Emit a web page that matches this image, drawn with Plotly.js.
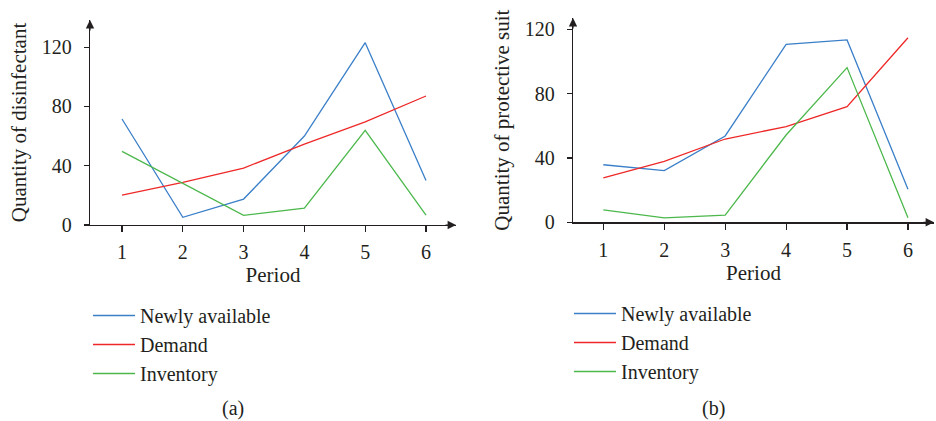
<!DOCTYPE html>
<html><head><meta charset="utf-8">
<script src="https://cdn.plot.ly/plotly-3.0.1.min.js"></script>
<style>html,body{margin:0;padding:0;background:#fff;}#chart{width:936px;height:421px;}</style>
</head><body><div id="chart"></div>
<script>
// ---- data ----
const periods = [1, 2, 3, 4, 5, 6];
const seriesNames = ["Newly available", "Demand", "Inventory"];
// (a) disinfectant
const disNewly = [71.5, 5.2, 17.5, 60, 123, 30];
const disDemand = [20.2, 28.8, 38.4, 54.6, 69.5, 87];
const disInventory = [49.7, 28.1, 6.5, 11.3, 63.9, 6.7];
// (b) protective suit
const suitNewly = [35.8, 32.1, 53.7, 110.7, 113.4, 20.5];
const suitDemand = [27.6, 37.9, 51.8, 59.5, 71.9, 114.8];
const suitInventory = [7.7, 2.7, 4.5, 54.3, 96.2, 2.9];
const yTicks = [0, 40, 80, 120];
const yTitleA = "Quantity of disinfectant";
const yTitleB = "Quantity of protective suit";
const xTitle = "Period";
const captions = ["(a)", "(b)"];

const colors = ["#3a7fc8", "#ee2828", "#4cb84c"];
const FONT = "Liberation Serif, Times New Roman, serif";
const AX = "#231f20";

function mk(x, y, i, xa, ya, leg) {
  return {x: x, y: y, type: "scatter", mode: "lines", name: seriesNames[i],
    xaxis: xa, yaxis: ya, legend: leg,
    line: {color: colors[i], width: 1.3}, hoverinfo: "skip"};
}
const data = [
  mk(periods, disNewly, 0, "x", "y", "legend"),
  mk(periods, disDemand, 1, "x", "y", "legend"),
  mk(periods, disInventory, 2, "x", "y", "legend"),
  mk(periods, suitNewly, 0, "x2", "y2", "legend2"),
  mk(periods, suitDemand, 1, "x2", "y2", "legend2"),
  mk(periods, suitInventory, 2, "x2", "y2", "legend2")
];

const W = 936, H = 421;
const px = v => v / W, py = v => (H - v) / H;

function xax(d0, d1, r, anchor) {
  return {domain: [px(d0), px(d1)], range: r, anchor: anchor,
    tickvals: periods, ticktext: periods.map(String),
    showline: true, linecolor: AX, linewidth: 1.2, ticks: "outside", ticklen: 6,
    tickcolor: AX, tickwidth: 1.2, showgrid: false, zeroline: false,
    tickfont: {family: FONT, size: 20, color: AX}, ticklabelstandoff: 3,
    title: {text: xTitle, font: {family: FONT, size: 21, color: AX}, standoff: 5}};
}
function yax(d0, d1, r, anchor, title, so) {
  return {domain: [py(d0), py(d1)], range: r, anchor: anchor,
    tickvals: yTicks, showline: true, linecolor: AX, linewidth: 1.2,
    ticks: "outside", ticklen: 5, tickcolor: AX, tickwidth: 1.2,
    showgrid: false, zeroline: false,
    tickfont: {family: FONT, size: 20, color: AX}, ticklabelstandoff: 8,
    title: {text: title, font: {family: FONT, size: 21, color: AX}, standoff: so}};
}

function arrow(xr, yr, x, y, ax, ay) {
  return {xref: xr, yref: yr, x: x, y: y, ax: ax, ay: ay, text: "",
    showarrow: true, arrowhead: 2, arrowsize: 1.4, arrowwidth: 1.2, arrowcolor: AX, standoff: 0};
}

const layout = {
  width: W, height: H, margin: {l: 0, r: 0, t: 0, b: 0},
  paper_bgcolor: "#fff", plot_bgcolor: "#fff", showlegend: true,
  font: {family: FONT, color: AX},
  xaxis: xax(90, 456, [1 - 32 / 60.8, 6 + 30 / 60.8], "y"),
  yaxis: yax(225, 20, [0, (225 - 20) / 1.4825], "x", yTitleA, 9),
  xaxis2: xax(573, 934, [1 - 30.3 / 60.88, 6 + 26 / 60.88], "y2"),
  yaxis2: yax(222.3, 18, [0, (222.3 - 18) / 1.608], "x2", yTitleB, 9),
  legend: {x: px(88), y: py(296), xanchor: "left", yanchor: "top",
    font: {family: FONT, size: 20, color: AX}, tracegroupgap: 0, itemwidth: 42,
    bgcolor: "rgba(0,0,0,0)"},
  legend2: {x: px(569), y: py(294), xanchor: "left", yanchor: "top",
    font: {family: FONT, size: 20, color: AX}, tracegroupgap: 0, itemwidth: 42,
    bgcolor: "rgba(0,0,0,0)"},
  annotations: [
    arrow("x domain", "y domain", 1, 0, -12, 0),
    arrow("x domain", "y domain", 0, 1, 0, 12),
    arrow("x2 domain", "y2 domain", 1, 0, -12, 0),
    arrow("x2 domain", "y2 domain", 0, 1, 0, 12),
    {xref: "paper", yref: "paper", x: px(233), y: py(408), text: captions[0], showarrow: false,
      xanchor: "center", yanchor: "middle", font: {family: FONT, size: 20, color: AX}},
    {xref: "paper", yref: "paper", x: px(713), y: py(408), text: captions[1], showarrow: false,
      xanchor: "center", yanchor: "middle", font: {family: FONT, size: 20, color: AX}}
  ]
};
Plotly.newPlot("chart", data, layout, {displayModeBar: false, staticPlot: true});
</script></body></html>
